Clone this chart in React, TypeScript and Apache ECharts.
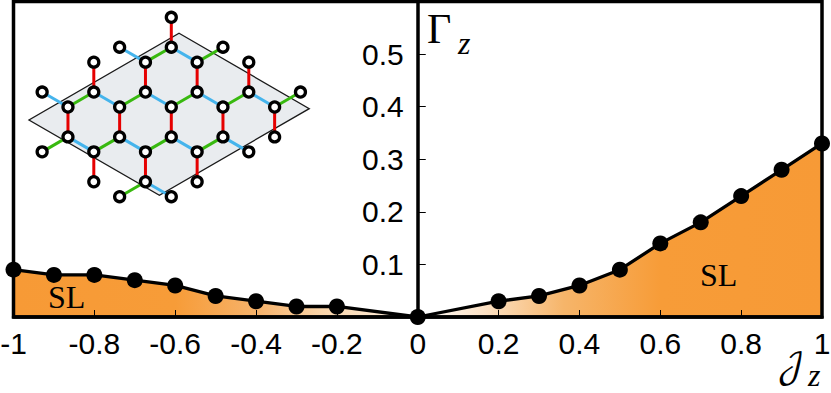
import React, { useEffect, useRef } from "react";
import * as echarts from "echarts";

const jz = [-1, -0.9, -0.8, -0.7, -0.6, -0.5, -0.4, -0.3, -0.2, 0, 0.2, 0.3, 0.4, 0.5, 0.6, 0.7, 0.8, 0.9, 1];
const gammaZ = [0.09, 0.08, 0.08, 0.07, 0.06, 0.04, 0.03, 0.02, 0.02, 0, 0.03, 0.04, 0.06, 0.09, 0.14, 0.18, 0.23, 0.28, 0.33];

// Inset honeycomb in lattice units
const nodes = [
  [0, 0], [-2, 2], [0, 2], [2, 2], [-3, 3], [-1, 3], [1, 3], [3, 3],
  [-5, 5], [-3, 5], [-1, 5], [1, 5], [3, 5], [5, 5],
  [-4, 6], [-2, 6], [0, 6], [2, 6], [4, 6], [-4, 8], [-2, 8], [0, 8], [2, 8], [4, 8],
  [-5, 9], [-3, 9], [-1, 9], [1, 9], [3, 9], [-3, 11], [-1, 11], [1, 11], [-2, 12], [0, 12],
];
const redBonds = [
  [0, 0, 0, 2], [-3, 3, -3, 5], [-1, 3, -1, 5], [1, 3, 1, 5], [3, 3, 3, 5],
  [-4, 6, -4, 8], [-2, 6, -2, 8], [0, 6, 0, 8], [2, 6, 2, 8], [4, 6, 4, 8],
  [-3, 9, -3, 11], [-1, 9, -1, 11], [1, 9, 1, 11],
];
const blueBonds = [
  [-2, 2, -1, 3], [0, 2, 1, 3], [-5, 5, -4, 6], [-3, 5, -2, 6], [-1, 5, 0, 6], [1, 5, 2, 6], [3, 5, 4, 6],
  [-4, 8, -3, 9], [-2, 8, -1, 9], [0, 8, 1, 9], [2, 8, 3, 9], [-1, 11, 0, 12],
];
const greenBonds = [
  [-1, 3, 0, 2], [1, 3, 2, 2], [-4, 6, -3, 5], [-2, 6, -1, 5], [0, 6, 1, 5], [2, 6, 3, 5], [4, 6, 5, 5],
  [-5, 9, -4, 8], [-3, 9, -2, 8], [-1, 9, 0, 8], [1, 9, 2, 8], [-2, 12, -1, 11],
];
const rhombus = [[0.3, 1.07], [5.34, 6.11], [-0.46, 11.9], [-5.51, 6.87]];

const TICK_FONT = "'Liberation Sans', Arial, sans-serif";
const SERIF = "'Liberation Serif', 'DejaVu Serif', serif";
const MATH = "'DejaVu Math TeX Gyre', 'DejaVu Serif', serif";

const bondSeries = (data: number[][], color: string) => ({
  type: "custom",
  xAxisIndex: 1,
  yAxisIndex: 1,
  z: 12,
  clip: false,
  silent: true,
  data,
  renderItem: (_: any, api: any) => {
    const a = api.coord([api.value(0), api.value(1)]);
    const b = api.coord([api.value(2), api.value(3)]);
    return {
      type: "line",
      shape: { x1: a[0], y1: a[1], x2: b[0], y2: b[1] },
      style: { stroke: color, lineWidth: 3 },
    };
  },
});

export default function App() {
  const ref = useRef<HTMLDivElement>(null);
  useEffect(() => {
    document.body.style.margin = "0";
    const chart = echarts.init(ref.current!, undefined, { renderer: "svg" });
    const pairs = jz.map((x, i) => [x, gammaZ[i]]);
    chart.setOption({
      animation: false,
      backgroundColor: "#ffffff",
      grid: [
        { left: 13.5, right: 9, top: 1.5, bottom: 76, show: true, borderWidth: 3.5, borderColor: "#000", backgroundColor: "transparent", z: 2, outerBoundsMode: "none" },
        { left: 16.3, top: 17.3, width: 310, height: 179.4, show: false, outerBoundsMode: "none" },
      ],
      xAxis: [
        {
          type: "value", gridIndex: 0, min: -1, max: 1, interval: 0.2, z: 3,
          splitLine: { show: false },
          axisLine: { lineStyle: { color: "#000", width: 3.5 } },
          axisTick: { inside: true, length: 7, lineStyle: { color: "#000", width: 1 } },
          axisLabel: { color: "#000", fontFamily: TICK_FONT, fontSize: 30, margin: 11, hideOverlap: false },
        },
        { type: "value", gridIndex: 1, min: -6, max: 6, show: false },
      ],
      yAxis: [
        {
          type: "value", gridIndex: 0, min: 0, max: 0.6, interval: 0.1, z: 3,
          position: "left", offset: -404.25,
          splitLine: { show: false },
          axisLine: { onZero: false, lineStyle: { color: "#000", width: 3.5 } },
          axisTick: { inside: true, length: 8, lineStyle: { color: "#000", width: 1 } },
          axisLabel: { color: "#000", fontFamily: TICK_FONT, fontSize: 30, margin: 14, showMinLabel: false, showMaxLabel: false },
        },
        { type: "value", gridIndex: 1, min: 0, max: 12, inverse: true, show: false },
      ],
      series: [
        {
          type: "line", data: pairs, z: 1, symbol: "none", silent: true,
          lineStyle: { width: 0 },
          areaStyle: {
            opacity: 1,
            color: new echarts.graphic.LinearGradient(0, 0, 1, 0, [
              { offset: 0, color: "#f79a36" },
              { offset: 0.2, color: "#f79c38" },
              { offset: 0.3, color: "#f6b26a" },
              { offset: 0.38, color: "#fad4a8" },
              { offset: 0.47, color: "#fdebd8" },
              { offset: 0.5, color: "#ffffff" },
              { offset: 0.58, color: "#fce2c6" },
              { offset: 0.68, color: "#f6b56a" },
              { offset: 0.8, color: "#f79c38" },
              { offset: 1, color: "#f79a36" },
            ]),
          },
        },
        {
          type: "line", data: pairs, z: 10, clip: false, silent: true,
          symbol: "circle", symbolSize: 16,
          itemStyle: { color: "#000" },
          lineStyle: { color: "#000", width: 3.3 },
        },
        {
          type: "custom", xAxisIndex: 1, yAxisIndex: 1, z: 11, clip: false, silent: true,
          data: [rhombus.flat()],
          renderItem: (_: any, api: any) => ({
            type: "polygon",
            shape: { points: rhombus.map((_p, k) => api.coord([api.value(2 * k), api.value(2 * k + 1)])) },
            style: { fill: "#e9ecef", stroke: "#1a1a1a", lineWidth: 1.3 },
          }),
        },
        bondSeries(redBonds, "#e60000"),
        bondSeries(blueBonds, "#45b4ec"),
        bondSeries(greenBonds, "#38b90f"),
        {
          type: "scatter", xAxisIndex: 1, yAxisIndex: 1, z: 13, clip: false, silent: true,
          data: nodes, symbol: "circle", symbolSize: 10,
          itemStyle: { color: "#fff", borderColor: "#000", borderWidth: 3.3, opacity: 1 },
        },
      ],
      graphic: [
        { type: "text", x: 427, y: 8, z: 20, style: { text: "Γ", font: `42px ${SERIF}`, fill: "#000" } },
        { type: "text", x: 458, y: 27, z: 20, style: { text: "z", font: `italic 32px ${SERIF}`, fill: "#000" } },
        { type: "text", x: 777, y: 350, z: 20, style: { text: "𝒥", font: `34px ${MATH}`, fill: "#000" } },
        { type: "text", x: 808, y: 359, z: 20, style: { text: "z", font: `italic 32px ${SERIF}`, fill: "#000" } },
        { type: "text", x: 48, y: 281, z: 20, style: { text: "SL", font: `32px ${SERIF}`, fill: "#000" } },
        { type: "text", x: 700, y: 259, z: 20, style: { text: "SL", font: `32px ${SERIF}`, fill: "#000" } },
      ],
    });
    return () => chart.dispose();
  }, []);
  return <div ref={ref} style={{ width: 831, height: 393 }} />;
}
